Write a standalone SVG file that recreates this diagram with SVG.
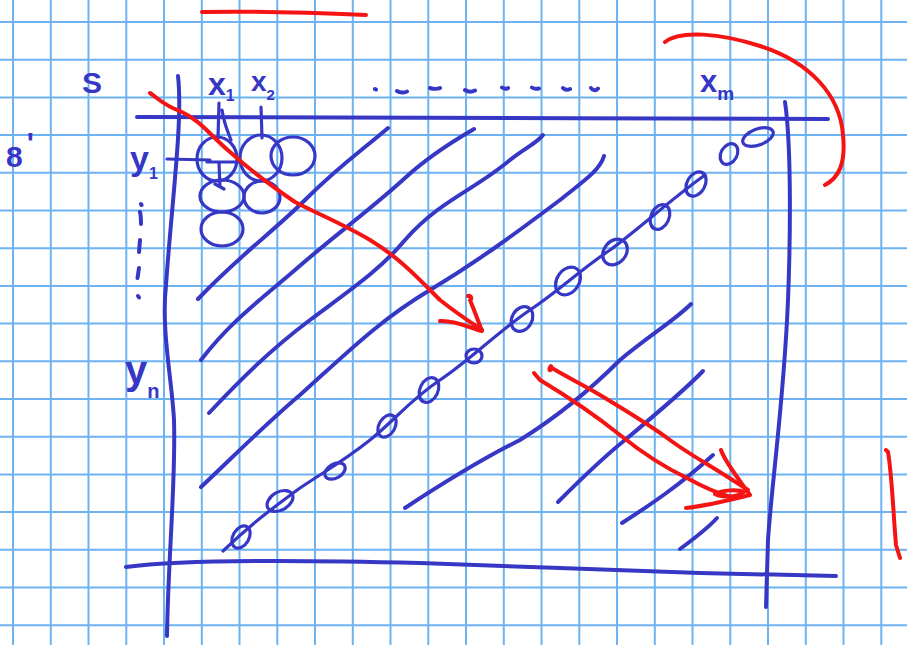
<svg xmlns="http://www.w3.org/2000/svg" width="907" height="645" viewBox="0 0 907 645">
<style>
.grid{stroke:#6db3f2;stroke-width:2;fill:none}
.ink{stroke:#3737c6;stroke-width:4;fill:none;stroke-linecap:round;stroke-linejoin:round}
.thin{stroke-width:3.2}
.red{stroke:#f41414;stroke-width:4;fill:none;stroke-linecap:round;stroke-linejoin:round}
.lbl{fill:#3737c6;font-family:"Liberation Sans",Arial,sans-serif;font-weight:bold}
</style>
<rect width="907" height="645" fill="#ffffff"/>
<g id="grid">
<path class="grid" d="M13,0V645M50.8,0V645M88.5,0V645M126.3,0V645M164,0V645M201.8,0V645M239.5,0V645M277.3,0V645M315,0V645M352.8,0V645M390.5,0V645M428.3,0V645M466,0V645M503.8,0V645M541.5,0V645M579.3,0V645M617,0V645M654.8,0V645M692.5,0V645M730.3,0V645M768,0V645M805.8,0V645M843.5,0V645M881.3,0V645"/>
<path class="grid" d="M0,22H907M0,59.7H907M0,97.4H907M0,135.1H907M0,172.8H907M0,210.5H907M0,248.2H907M0,285.9H907M0,323.6H907M0,361.3H907M0,399H907M0,436.7H907M0,474.4H907M0,512.1H907M0,549.8H907M0,587.5H907M0,625.2H907"/>
</g>
<g id="frame">
<path class="ink" d="M137,117 C300,118 600,118 828,119"/>
<path class="ink" d="M178,76 C183,120 172,200 166,285 C161,330 172,380 174,420 C176,480 168,560 167,636"/>
<path class="ink" d="M785,102 C792,150 790,250 788,300 C784,400 772,480 768,540 L766,607"/>
<path class="ink" d="M126,567 C180,560 300,560 420,563 C520,566 600,570 700,573 L836,576"/>
</g>
<g id="labels">
<text class="lbl" x="82" y="93" font-size="30">S</text>
<text class="lbl" x="6" y="167" font-size="30">8<tspan dx="4" dy="-14">'</tspan></text>
<text class="lbl" x="208" y="95" font-size="32">x<tspan dy="6" font-size="16">1</tspan></text>
<text class="lbl" x="251" y="91" font-size="28">x<tspan dy="9" font-size="15">2</tspan></text>
<text class="lbl" x="700" y="92" font-size="31">x<tspan dy="8" font-size="19">m</tspan></text>
<text class="lbl" x="130" y="170" font-size="34">y<tspan dy="9" font-size="16">1</tspan></text>
<text class="lbl" x="125" y="384" font-size="40">y<tspan dy="14" font-size="20">n</tspan></text>
</g>
<g id="dots">
<path class="ink" d="M375,89 L376,89.5 M397,91 C400,93 405,93 407,91.5 M430,88 C433,89 438,89 440,88 M465,90 C468,92 472,92 475,90.5 M502,87.5 C504,89 507,89 508,88 M532,87.5 C534,89 537,89 539,88.5 M563,88 C565,90 568,90 570,89 M591,88 C593,91 596,91 598,88.5"/>
<path class="ink" d="M141,204 L141.5,205 M140,212 C141,216 141,220 141,224 M140,240 L139,252 M139,268 L137.5,278 M138,296 L139,297.5"/>
</g>
<g id="cells">
<path class="ink thin" d="M219,103 L218,138 M222,110 C224,124 228,132 231,140 M261,107 L262,138 M167,159 L210,160 M207,162 L240,162 M219,163 L220,187 M215,184 L224,189"/>
<ellipse class="ink thin" cx="217" cy="159" rx="20" ry="22"/>
<ellipse class="ink thin" cx="261" cy="158" rx="21" ry="23"/>
<ellipse class="ink thin" cx="293" cy="156" rx="22" ry="19"/>
<ellipse class="ink thin" cx="222" cy="196" rx="22" ry="16"/>
<ellipse class="ink thin" cx="262" cy="197" rx="18" ry="16"/>
<ellipse class="ink thin" cx="222" cy="229" rx="21" ry="17"/>
</g>
<g id="diagonals">
<path class="ink" d="M198,299 C240,255 275,230 305,200 C340,165 365,148 388,128"/>
<path class="ink" d="M201,360 C230,322 260,300 295,270 C335,235 370,210 405,178 C430,155 455,140 474,129"/>
<path class="ink" d="M209,413 C240,380 270,350 310,320 C350,290 380,270 405,240 C440,200 475,190 510,160 C525,148 537,143 543,135"/>
<path class="ink" d="M201,487 C240,450 270,420 300,395 C350,350 380,320 430,290 C480,260 520,230 560,200 C585,180 600,170 604,156"/>
<path class="ink" d="M405,508 C440,485 480,460 520,440 C560,415 590,390 620,360 C650,335 675,320 691,304"/>
<path class="ink" d="M558,502 C580,480 600,460 625,440 C655,415 685,390 703,371"/>
<path class="ink" d="M622,523 C650,505 680,485 713,455"/>
<path class="ink" d="M680,549 C695,538 708,528 717,518"/>
<path class="ink thin" d="M223,551 C250,525 270,510 300,488 C330,468 345,460 370,440 C395,420 410,400 440,380 C470,360 500,330 530,310 C560,290 580,270 610,250 C640,228 670,200 705,175"/>
<ellipse class="ink thin" cx="241" cy="537" rx="8" ry="12" transform="rotate(30 241 537)"/>
<ellipse class="ink thin" cx="280" cy="501" rx="14" ry="9" transform="rotate(-30 280 501)"/>
<ellipse class="ink thin" cx="335" cy="471" rx="11" ry="7" transform="rotate(-30 335 471)"/>
<ellipse class="ink thin" cx="387" cy="426" rx="8" ry="12" transform="rotate(30 387 426)"/>
<ellipse class="ink thin" cx="429" cy="390" rx="9" ry="13" transform="rotate(25 429 390)"/>
<ellipse class="ink thin" cx="474" cy="356" rx="8" ry="7"/>
<ellipse class="ink thin" cx="522" cy="319" rx="10" ry="13" transform="rotate(30 522 319)"/>
<ellipse class="ink thin" cx="568" cy="281" rx="11" ry="15" transform="rotate(35 568 281)"/>
<ellipse class="ink thin" cx="615" cy="252" rx="11" ry="14" transform="rotate(40 615 252)"/>
<ellipse class="ink thin" cx="660" cy="217" rx="9" ry="13" transform="rotate(25 660 217)"/>
<ellipse class="ink thin" cx="696" cy="184" rx="9" ry="13" transform="rotate(30 696 184)"/>
<ellipse class="ink thin" cx="729" cy="154" rx="8" ry="11" transform="rotate(30 729 154)"/>
<ellipse class="ink thin" cx="758" cy="137" rx="16" ry="8" transform="rotate(-20 758 137)"/>
</g>
<g id="red-marks">
<path class="red" d="M202,12 C250,11 320,13 366,15"/>
<path class="red" d="M665,42 C680,30 720,33 760,46 C810,62 840,95 843,135 C846,165 838,178 825,185"/>
<path class="red" d="M886,450 L888,452 C892,475 893,510 896,545 L900,558"/>
<path class="red" d="M150,93 C160,100 165,106 180,111 C200,120 210,135 230,152 C250,170 270,185 295,202 C320,215 345,225 370,240 C400,258 420,280 440,300 C455,312 470,322 482,330"/>
<path class="red" d="M468,296 C472,295 472,300 470,300 C474,310 478,320 482,331 C470,328 455,320 440,321"/>
<path class="red" d="M534,373 L540,380 C565,395 595,415 620,435 C645,455 670,470 687,478 C705,488 720,494 731,497"/>
<path class="red" d="M551,366 C548,370 550,372 552,368 C565,376 585,386 600,395 C625,410 650,425 670,440 C690,455 710,465 748,490"/>
<path class="red" d="M721,450 C725,462 738,478 750,495 C730,500 705,506 686,508"/>
<path class="red" d="M715,494 C722,490 738,489 744,492 C738,497 722,498 715,494"/>
</g>
</svg>
